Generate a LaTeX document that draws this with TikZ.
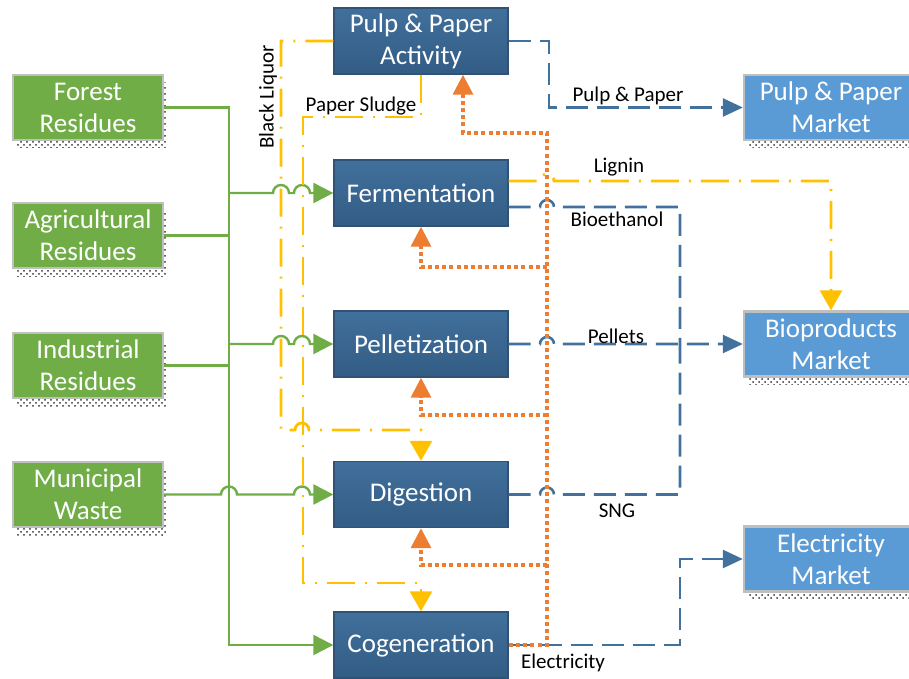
\documentclass[tikz,border=0pt]{standalone}
\usepackage{fontspec}
\setmainfont{Carlito}
\usetikzlibrary{arrows.meta,patterns}
\definecolor{grn}{HTML}{70AD47}
\definecolor{procT}{HTML}{41709C}
\definecolor{procB}{HTML}{325C84}
\definecolor{procE}{HTML}{2F5275}
\definecolor{lblue}{HTML}{5B9BD5}
\definecolor{ylw}{HTML}{FFC000}
\definecolor{org}{HTML}{ED7D31}
\definecolor{lnblue}{HTML}{41719C}
\definecolor{bgray}{HTML}{BFBFBF}
\begin{document}
\begin{tikzpicture}[x=0.5pt,y=0.5pt,
  boxfont/.style={font=\fontsize{13.5}{16}\selectfont},
  shadowed/.style={preaction={pattern=crosshatch dots, pattern color=black!80,
      transform canvas={shift={(2pt,-4pt)}}}},
  src/.style={shadowed, fill=grn, draw=bgray, line width=1.2pt, minimum width=75pt,
      minimum height=32.5pt, text=white, boxfont, align=center, inner sep=0pt},
  mkt/.style={src, fill=lblue, minimum width=87pt},
  proc/.style={top color=procT, bottom color=procB, draw=procE, line width=0.7pt,
      minimum width=87pt, minimum height=33pt, text=white, boxfont, align=center, inner sep=0pt},
  lbl/.style={font=\fontsize{10.5}{12}\selectfont, text=black, inner sep=1pt},
  gline/.style={draw=grn, line width=1.2pt},
  gtip/.style={-{Triangle[length=10pt,width=10pt]}},
  bline/.style={draw=lnblue, line width=1.3pt, dash pattern=on 11pt off 4.5pt},
  btip/.style={-{Triangle[length=10pt,width=9pt]}},
  yline/.style={draw=ylw, line width=1.4pt, dash pattern=on 14pt off 5pt on 1pt off 5pt},
  ytip/.style={-{Triangle[length=10pt,width=11pt]}},
  oline/.style={draw=org, line width=1.6pt, dash pattern=on 2pt off 1.6pt},
  otip/.style={-{Triangle[length=10pt,width=10pt]}}
]
\useasboundingbox (0,0) rectangle (909,-679);

% source boxes
\node[src] (fr) at (88,-107.5) {Forest\\Residues};
\node[src] (ag) at (88,-235.5) {Agricultural\\Residues};
\node[src] (ir) at (88,-365.5) {Industrial\\Residues};
\node[src] (mw) at (88,-494.5) {Municipal\\Waste};

% process boxes
\node[proc] (pp) at (421,-41) {Pulp \& Paper\\Activity};
\node[proc] (fer) at (421,-193) {Fermentation};
\node[proc] (pel) at (421,-344) {Pelletization};
\node[proc] (dig) at (421,-494.5) {Digestion};
\node[proc] (cog) at (421,-645) {Cogeneration};

% market boxes
\node[mkt] (ppm) at (831,-107.5) {Pulp \& Paper\\Market};
\node[mkt] (bio) at (831,-344) {Bioproducts\\Market};
\node[mkt] (em) at (831,-559) {Electricity\\Market};

% ---------- green feed lines ----------
\draw[gline,gtip] (fr.east) -- (229,-107.5) -- (229,-645) -- (cog.west);
\draw[gline] (ag.east) -- (229,-235.5);
\draw[gline] (ir.east) -- (229,-365.5);
\draw[gline,gtip] (229,-193) -- (273,-193) arc[start angle=180,end angle=0,radius=4pt]
  -- (294,-193) arc[start angle=180,end angle=0,radius=4pt] -- (fer.west);
\draw[gline,gtip] (229,-344) -- (273,-344) arc[start angle=180,end angle=0,radius=4pt]
  -- (294,-344) arc[start angle=180,end angle=0,radius=4pt] -- (pel.west);
\draw[gline,gtip] (mw.east) -- (221,-494.5) arc[start angle=180,end angle=0,radius=4pt]
  -- (294,-494.5) arc[start angle=180,end angle=0,radius=4pt] -- (dig.west);

% ---------- yellow by-product lines ----------
\draw[yline,ytip] (pp.west) -- (281,-41) -- (281,-430) -- (295,-430)
  arc[start angle=180,end angle=0,radius=3.5pt] -- (421,-430) -- (dig.north);
\draw[yline,ytip] (pp.south) -- (421,-117) -- (303,-117) -- (303,-583) -- (421,-583) -- (cog.north);
\draw[yline,ytip] ([yshift=6pt]fer.east) -- (540,-181) arc[start angle=180,end angle=0,radius=3.5pt]
  -- (831,-181) -- (bio.north);

% ---------- blue product lines ----------
\draw[bline,btip] (pp.east) -- (549,-41) -- (549,-107.5) -- (ppm.west);
\draw[bline] ([yshift=-7pt]fer.east) -- (540,-207) arc[start angle=180,end angle=0,radius=3.5pt]
  -- (680,-207) -- (680,-344);
\draw[bline,btip] (pel.east) -- (540,-344) arc[start angle=180,end angle=0,radius=3.5pt] -- (bio.west);
\draw[bline] (dig.east) -- (540,-494.5) arc[start angle=180,end angle=0,radius=3.5pt]
  -- (680,-494.5) -- (680,-344);
\draw[bline,btip] (cog.east) -- (680,-645) -- (680,-559) -- (em.west);

% ---------- orange electricity feedback ----------
\draw[oline,otip] (cog.east) -- (547,-645) -- (547,-133) -- (463,-133) -- ([xshift=21pt]pp.south);
\draw[oline,otip] (547,-267) -- (421,-267) -- (fer.south);
\draw[oline,otip] (547,-415) -- (421,-415) -- (pel.south);
\draw[oline,otip] (547,-565) -- (421,-565) -- (dig.south);

% ---------- labels ----------
\node[lbl] (lpp) at (628,-96) {Pulp \& Paper};
\node[lbl] (llig) at (619,-167) {Lignin};
\node[lbl] (lbe) at (617,-219) {Bioethanol};
\node[lbl] (lpel) at (616,-336) {Pellets};
\node[lbl] (lsng) at (617,-511) {SNG};
\node[lbl] (lel) at (563,-663) {Electricity};
\node[lbl] (lps) at (361,-106) {Paper Sludge};
\node[lbl,rotate=90] (lbl2) at (268,-97) {Black Liquor};
\end{tikzpicture}
\end{document}
